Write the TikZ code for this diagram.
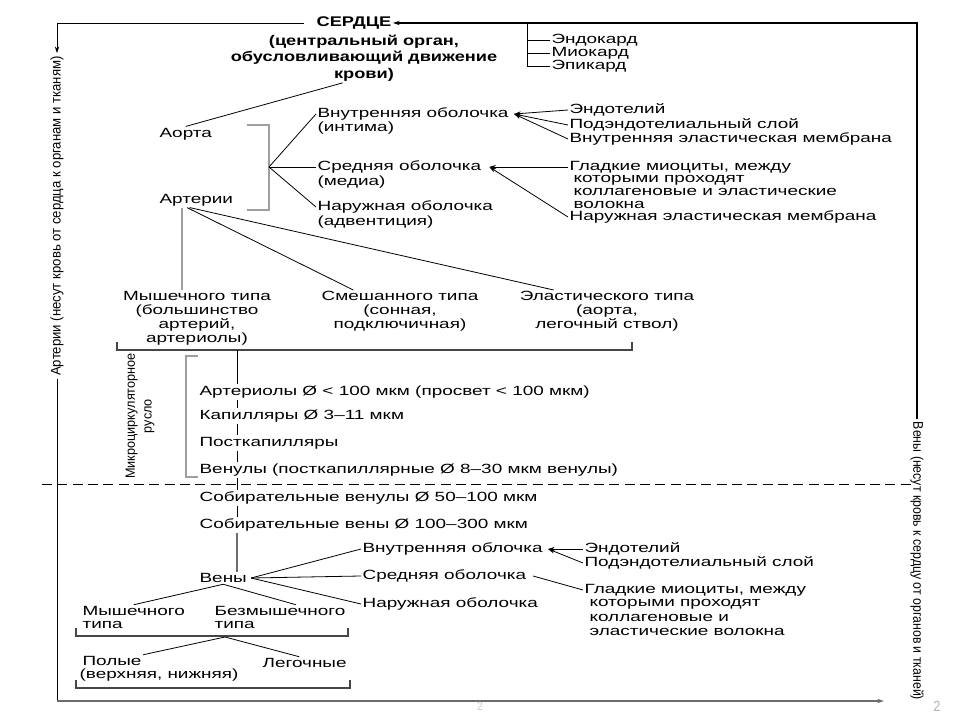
\documentclass[tikz,border=0pt]{standalone}
\usepackage{fontspec}
\setmainfont{Liberation Sans}
\newfontfamily\nf[FakeStretch=1.42]{Liberation Sans}
\newfontfamily\hf[FakeStretch=1.3]{Liberation Sans}
\newfontfamily\cf[FakeStretch=0.88]{Liberation Sans}
\newfontfamily\cfa[FakeStretch=0.94]{Liberation Sans}
\newfontfamily\mf[FakeStretch=0.95]{Liberation Sans}
\newcommand{\dia}{Ø}
\newcommand{\bsz}{\fontsize{10}{10.5}\selectfont}
\newcommand{\hsz}{\fontsize{10.5}{12.5}\selectfont}
\newcommand{\vsz}{\fontsize{10.5}{11}\selectfont}
\usetikzlibrary{arrows.meta}
\tikzset{
 tx/.style={font=\nf\bsz, inner sep=1pt, anchor=west},
 tc/.style={font=\nf\bsz, inner sep=1pt, align=center, anchor=north},
 hd/.style={font=\hf\bfseries\hsz, inner sep=1pt, align=center},
 vt/.style={font=\cf\vsz, inner sep=2pt},
 ln/.style={draw=black, line width=0.6pt},
 gl/.style={draw=gray!85!black, line width=1.1pt},
 br/.style={draw=gray!75, line width=1.3pt},
 bk/.style={draw=gray!55!black, line width=0.8pt},
 arr/.style={-{Stealth[length=5pt,width=3.2pt]}},
}
\begin{document}
\begin{tikzpicture}[x=0.75pt,y=-0.75pt]
\useasboundingbox[fill=white] (0,0) rectangle (960,720);

% heart
\node[hd] (heart) at (354,23) {СЕРДЦЕ};
\node[hd, anchor=north] (heartd) at (364,33) {(центральный орган,\\обусловливающий движение\\крови)};
\node[tx] (endo) at (550,40) {Эндокард};
\node[tx] (mio) at (550,53) {Миокард};
\node[tx] (epi) at (550,66) {Эпикард};
\coordinate (lay) at (527,24);
\draw[ln] (lay) |- (epi.west);
\draw[ln] (lay |- endo.west) -- (endo.west);
\draw[ln] (lay |- mio.west) -- (mio.west);

% frame texts
\node[vt, rotate=90, font=\cfa\vsz] (atext) at (57,216) {Артерии (несут кровь от сердца к органам и тканям)};
\node[vt, rotate=-90] (vtext) at (917,561) {Вены (несут кровь к сердцу от органов и тканей)};
\coordinate (lb) at (57,701);
\coordinate (bot) at (884,701);
\draw[ln, arr] ([xshift=-8pt]heart.west) -| (atext.east);
\draw[ln] (atext.west) -- (lb);
\draw[gl, arr] (lb) -- (bot);
\draw[ln, line width=0.9pt, arr] (vtext.west) |- (heart.east);

% aorta / arteries
\node[tx] (aorta) at (158,134) {Аорта};
\node[tx] (art) at (158,200) {Артерии};
\draw[ln] ([xshift=-16pt]heartd.south) -- (aorta.north);
\draw[br] (247,125) -- (269,125) -- (269,210) -- (247,210);
\coordinate (wall) at (269,167);

\node[tx] (vo) at (316,114) {Внутренняя оболочка};
\node[tx] (voi) at (316,128) {(интима)};
\node[tx] (so) at (316,167) {Средняя оболочка};
\node[tx] (soi) at (316,182) {(медиа)};
\node[tx] (no) at (316,207) {Наружная оболочка};
\node[tx] (noi) at (316,222) {(адвентиция)};
\draw[ln] (wall) -- (vo.west);
\draw[ln] (wall) -- (so.west);
\draw[ln] (wall) -- (no.west);

\node[tx] (e1) at (568,110) {Эндотелий};
\node[tx] (e2) at (568,125) {Подэндотелиальный слой};
\node[tx] (e3) at (568,139) {Внутренняя эластическая мембрана};
\draw[ln, arr] (e1.west) -- ([xshift=3pt]vo.east);
\draw[ln, arr] (e2.west) -- ([xshift=3pt]vo.east);
\draw[ln, arr] (e3.west) -- ([xshift=3pt]vo.east);

\node[tx] (g1) at (568,167) {Гладкие миоциты, между};
\node[tx] (g2) at (572,180) {которыми проходят};
\node[tx] (g3) at (572,192) {коллагеновые и эластические};
\node[tx] (g4) at (572,205) {волокна};
\node[tx] (g5) at (568,217) {Наружная эластическая мембрана};
\draw[ln, arr] (g1.west) -- ([xshift=5pt]so.east);
\draw[ln, arr] (g5.west) -- ([xshift=5pt]so.east);

% artery types
\node[tc] (mt) at (197,290) {Мышечного типа\\(большинство\\артерий,\\артериолы)};
\node[tc] (smt) at (400,290) {Смешанного типа\\(сонная,\\подключичная)};
\node[tc] (elt) at (607,290) {Эластического типа\\(аорта,\\легочный ствол)};
\draw[br] ([xshift=-11pt]art.south) -- ([xshift=-11pt]art.south |- mt.north);
\draw[ln] ([xshift=-7pt]art.south) -- ([xshift=-35pt]smt.north);
\draw[ln] ([xshift=-5pt]art.south) -- ([xshift=-40pt]elt.north);
\draw[bk] (117,342) -- (117,350) -- (632,350) -- (632,342);
\coordinate (tb) at (237,350);

% microcirculation
\coordinate (spine) at (237,0);
\node[tx] (r1) at (198,392) {Артериолы \dia{} < 100 мкм (просвет < 100 мкм)};
\node[tx] (r2) at (198,416) {Капилляры \dia{} 3–11 мкм};
\node[tx] (r3) at (198,443) {Посткапилляры};
\node[tx] (r4) at (198,470) {Венулы (посткапиллярные \dia{} 8–30 мкм венулы)};
\node[tx] (r5) at (198,498) {Собирательные венулы \dia{} 50–100 мкм};
\node[tx] (r6) at (198,525) {Собирательные вены \dia{} 100–300 мкм};
\node[tx] (veny) at (198,578) {Вены};
\draw[ln] (tb) -- (r1.north -| spine);
\draw[ln] (r1.south -| spine) -- (r2.north -| spine);
\draw[ln] (r2.south -| spine) -- (r3.north -| spine);
\draw[ln] (r3.south -| spine) -- (r4.north -| spine);
\draw[ln] (r4.south -| spine) -- (r5.north -| spine);
\draw[ln] (r5.south -| spine) -- (r6.north -| spine);
\draw[gl] (r6.south -| spine) -- (veny.north -| spine);
\draw[br] (198,356) -| (186,477) -- (198,477);
\node[vt, rotate=90, align=center, font=\mf\fontsize{10}{12.5}\selectfont] (mcr) at (140,416) {Микроциркуляторное\\русло};
\draw[ln, dash pattern=on 7.5pt off 4pt] (42,484) -- (914,484);

% veins
\node[tx] (vv1) at (361,549) {Внутренняя облочка};
\node[tx] (vv2) at (361,576) {Средняя оболочка};
\node[tx] (vv3) at (361,604) {Наружная оболочка};
\draw[ln] ([xshift=2pt]veny.east) -- (vv1.west);
\draw[ln] ([xshift=2pt]veny.east) -- (vv2.west);
\draw[ln] ([xshift=2pt]veny.east) -- (vv3.west);
\node[tx] (ve1) at (583,549) {Эндотелий};
\node[tx] (ve2) at (583,563) {Подэндотелиальный слой};
\draw[ln, arr] (ve1.west) -- ([xshift=3pt]vv1.east);
\draw[ln, arr] (ve2.west) -- ([xshift=3pt]vv1.east);
\node[tx] (vg1) at (583,590) {Гладкие миоциты, между};
\node[tx] (vg2) at (588,604) {которыми проходят};
\node[tx] (vg3) at (588,618) {коллагеновые и};
\node[tx] (vg4) at (588,632) {эластические волокна};
\draw[ln] ([xshift=4pt]vv2.east) -- (vg1.west);

\node[tx] (vm1) at (81,611) {Мышечного};
\node[tx] (vm2) at (81,625) {типа};
\node[tx] (vb1) at (213,611) {Безмышечного};
\node[tx] (vb2) at (213,625) {типа};
\draw[ln] (veny.south) -- (vm1.north);
\draw[ln] (veny.south) -- ([xshift=12pt]vb1.north);
\draw[bk] (76,628) -- (76,636) -- (348,636) -- (348,628);
\coordinate (b2) at (225,637);
\node[tx] (p1) at (81,661) {Полые};
\node[tx] (p2) at (78,675) {(верхняя, нижняя)};
\node[tx] (lg) at (261,663) {Легочные};
\draw[ln] (b2) -- (p1.north east);
\draw[ln] (b2) -- ([xshift=-4pt]lg.north);
\draw[bk] (76,680) -- (76,688) -- (350,688) -- (350,680);

% page numbers
\node[font=\cf\fontsize{9}{9}\selectfont, text=gray!40] (pg1) at (480,706) {2};
\node[font=\cf\fontsize{11}{11}\selectfont, text=gray!60] (pg2) at (937,706) {2};
\end{tikzpicture}
\end{document}
